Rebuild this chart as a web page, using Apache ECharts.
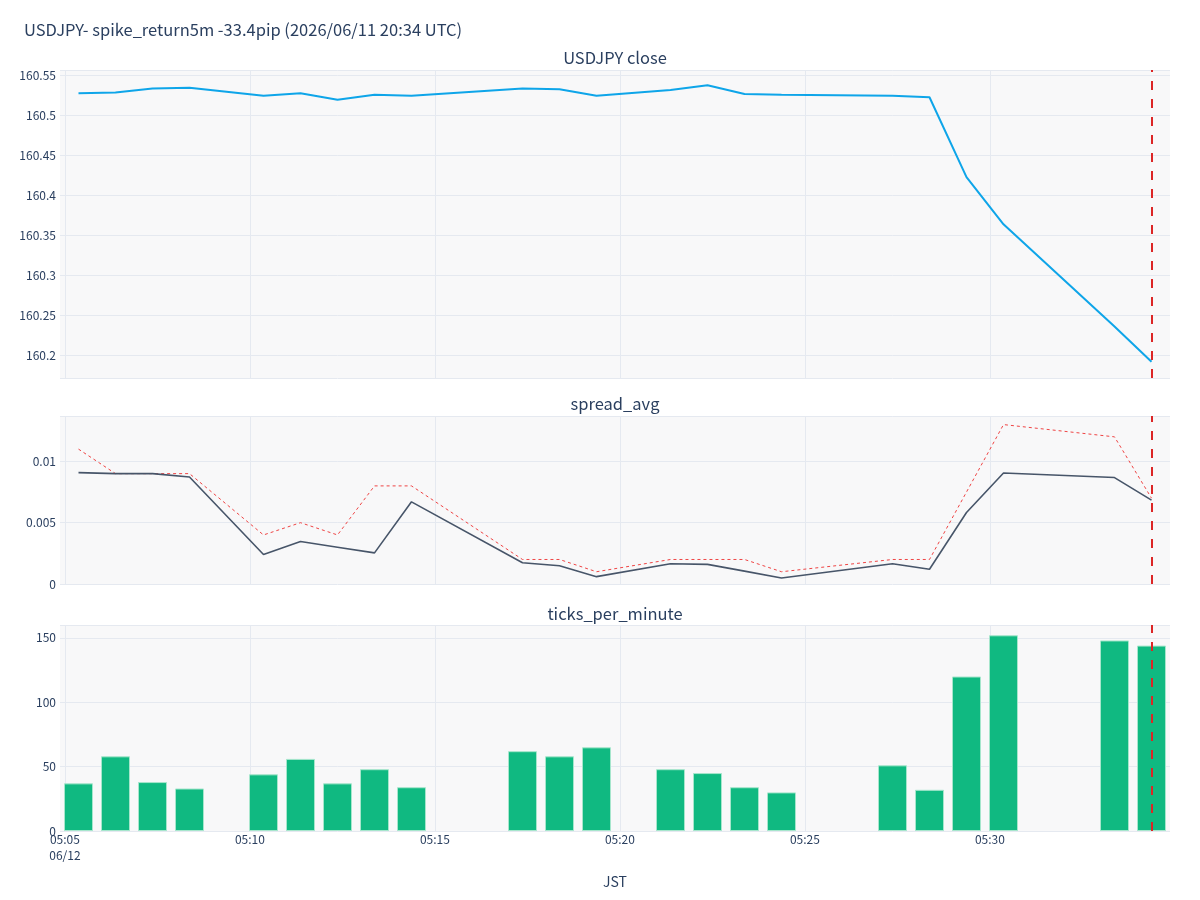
<!DOCTYPE html>
<html lang="ja">
<head>
  <meta charset="UTF-8">
  <title>USDJPY spike</title>
  <script src="https://cdn.jsdelivr.net/npm/echarts@6.0.0/dist/echarts.min.js"></script>
  <style>
    html, body { margin: 0; padding: 0; background: #fff; }
    #main { width: 1200px; height: 900px; }
  </style>
</head>
<body>
  <div id="main"></div>
  <script>
    // one category per minute bar (JST), 05:05 .. 05:34
    const allMinutes = ['05:05', '05:06', '05:07', '05:08', '05:09', '05:10', '05:11', '05:12', '05:13', '05:14',
      '05:15', '05:16', '05:17', '05:18', '05:19', '05:20', '05:21', '05:22', '05:23', '05:24',
      '05:25', '05:26', '05:27', '05:28', '05:29', '05:30', '05:31', '05:32', '05:33', '05:34'];
    // minutes that actually have rows
    const minutes = ['05:05', '05:06', '05:07', '05:08', '05:10', '05:11', '05:12', '05:13', '05:14',
      '05:17', '05:18', '05:19', '05:21', '05:22', '05:23', '05:24', '05:27', '05:28', '05:29',
      '05:30', '05:33', '05:34'];
    const closePrice = [160.528, 160.529, 160.534, 160.535, 160.525, 160.528, 160.520, 160.526, 160.525,
      160.534, 160.533, 160.525, 160.532, 160.538, 160.527, 160.526, 160.525, 160.523, 160.423,
      160.364, 160.236, 160.192];
    const spreadAvg = [0.00908, 0.0090, 0.0090, 0.00873, 0.0024, 0.00346, 0.0030, 0.00254, 0.0067,
      0.00173, 0.00149, 0.0006, 0.00165, 0.0016, 0.00105, 0.00049, 0.00165, 0.0012, 0.00583,
      0.00905, 0.00868, 0.00684];
    const spreadMax = [0.011, 0.009, 0.009, 0.009, 0.004, 0.005, 0.004, 0.008, 0.008,
      0.002, 0.002, 0.001, 0.002, 0.002, 0.002, 0.001, 0.002, 0.002, 0.0075,
      0.013, 0.012, 0.007];
    const ticksPerMinute = [37, 58, 38, 33, 44, 56, 37, 48, 34, 62, 58, 65, 48, 45, 34, 30, 51, 32, 120,
      152, 148, 144];
    const spikeMinute = '05:34';

    // time grid: seconds after 05:00:00 JST (rows are stamped at :22 in each minute)
    const xMinSec = 292;
    const xMaxSec = 2092;
    const tickSecs = [300, 600, 900, 1200, 1500, 1800];
    const tickLabels = ['05:05\n06/12', '05:10', '05:15', '05:20', '05:25', '05:30'];

    const pair = arr => minutes.map((m, i) => [m, arr[i]]);

    const textColor = '#2a3f5f';
    const gridColor = '#e5e9f0';
    const font = "'Noto Sans CJK JP', 'Open Sans', sans-serif";

    const chart = echarts.init(document.getElementById('main'));

    const grids = [
      { left: 60, right: 30, top: 70, height: 308 },
      { left: 60, right: 30, top: 416, height: 168 },
      { left: 60, right: 30, top: 625, height: 206 }
    ].map(g => Object.assign(g, { show: true, backgroundColor: '#f8f8f9', borderWidth: 0 }));

    // hidden category axis that carries the data
    function catAxis(idx) {
      return { type: 'category', gridIndex: idx, position: 'top', data: allMinutes, boundaryGap: true, show: false };
    }

    // visible time axis for grid lines and labels
    function timeAxis(idx, showLabels) {
      return {
        type: 'value',
        gridIndex: idx,
        position: 'bottom',
        min: xMinSec,
        max: xMaxSec,
        axisLine: { show: false },
        axisTick: { show: false, customValues: tickSecs },
        splitLine: { show: true, lineStyle: { color: gridColor, width: 1 } },
        axisLabel: {
          show: showLabels,
          customValues: tickSecs,
          color: textColor,
          fontSize: 12,
          fontFamily: font,
          lineHeight: 16,
          margin: 0,
          formatter: v => tickLabels[tickSecs.indexOf(v)] || ''
        },
        name: showLabels ? 'JST' : '',
        nameLocation: 'middle',
        nameGap: 44,
        nameTextStyle: { color: textColor, fontSize: 14, fontFamily: font }
      };
    }

    function yAxisFor(idx, extra) {
      return Object.assign({
        type: 'value',
        gridIndex: idx,
        axisLine: { show: false },
        axisTick: { show: false },
        axisLabel: { color: textColor, fontSize: 12, fontFamily: font, margin: 4, showMinLabel: idx !== 0, showMaxLabel: false },
        splitLine: { lineStyle: { color: gridColor, width: 1 } }
      }, extra);
    }

    const spikeMark = {
      silent: true,
      symbol: 'none',
      label: { show: false },
      lineStyle: { color: '#dc2626', type: [9, 9], width: 2 },
      data: [{ xAxis: spikeMinute }]
    };

    const subTitle = (text, top) => ({
      text: text,
      left: 615,
      top: top,
      textAlign: 'center',
      padding: 0,
      textStyle: { color: textColor, fontSize: 16.5, fontWeight: 'normal', fontFamily: font }
    });

    const option = {
      animation: false,
      title: [
        {
          text: 'USDJPY- spike_return5m -33.4pip (2026/06/11 20:34 UTC)',
          left: 24,
          top: 21,
          padding: 0,
          textStyle: { color: textColor, fontSize: 16.5, fontWeight: 'normal', fontFamily: font }
        },
        subTitle('USDJPY close', 49),
        subTitle('spread_avg', 395),
        subTitle('ticks_per_minute', 605)
      ],
      grid: grids,
      xAxis: [catAxis(0), timeAxis(0, false), catAxis(1), timeAxis(1, false), catAxis(2), timeAxis(2, true)],
      yAxis: [
        yAxisFor(0, { min: 160.1716, max: 160.5571, splitNumber: 8 }),
        yAxisFor(1, { min: 0, max: 0.0137, interval: 0.005 }),
        yAxisFor(2, { min: 0, max: 160, interval: 50 })
      ],
      series: [
        {
          name: 'close',
          type: 'line',
          xAxisIndex: 0,
          yAxisIndex: 0,
          data: pair(closePrice),
          showSymbol: false,
          lineStyle: { color: '#0ea5e9', width: 2 },
          itemStyle: { color: '#0ea5e9' },
          markLine: spikeMark
        },
        {
          name: 'spread_max',
          type: 'line',
          xAxisIndex: 2,
          yAxisIndex: 1,
          data: pair(spreadMax),
          showSymbol: false,
          lineStyle: { color: '#ef4444', width: 1, type: [3, 3] },
          itemStyle: { color: '#ef4444' }
        },
        {
          name: 'spread_avg',
          type: 'line',
          xAxisIndex: 2,
          yAxisIndex: 1,
          data: pair(spreadAvg),
          showSymbol: false,
          lineStyle: { color: '#475569', width: 1.6 },
          itemStyle: { color: '#475569' },
          markLine: spikeMark
        },
        {
          name: 'ticks_per_minute',
          type: 'bar',
          xAxisIndex: 4,
          yAxisIndex: 2,
          data: pair(ticksPerMinute),
          barWidth: 29,
          itemStyle: { color: '#10b981', borderColor: '#a6e6cc', borderWidth: 1 },
          markLine: spikeMark
        }
      ]
    };

    chart.setOption(option);
  </script>
</body>
</html>
